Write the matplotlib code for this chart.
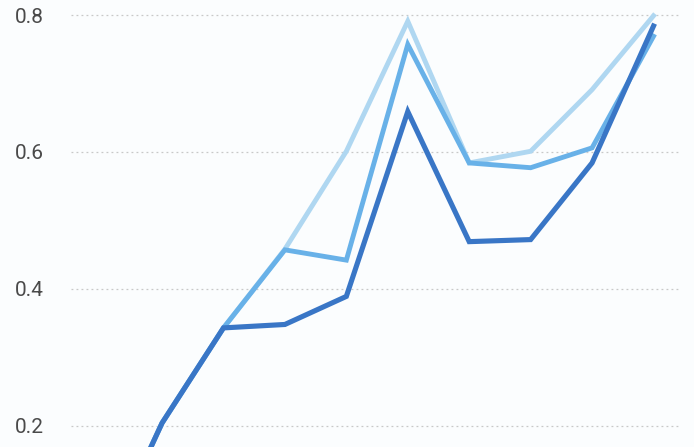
import numpy as np
import matplotlib.pyplot as plt

# values (index 0 sits below the visible area)
steps = np.arange(10)
series_light = [0.01, 0.204, 0.343, 0.458, 0.601, 0.791, 0.584, 0.601, 0.691, 0.799]
series_mid = [0.01, 0.204, 0.343, 0.457, 0.442, 0.757, 0.584, 0.577, 0.606, 0.769]
series_dark = [0.01, 0.204, 0.343, 0.348, 0.389, 0.659, 0.469, 0.472, 0.584, 0.784]
y_ticks = [0.2, 0.4, 0.6, 0.8]
y_labels = ["0.2", "0.4", "0.6", "0.8"]

bg = "#fbfdfe"
fig = plt.figure(figsize=(6.94, 4.47), dpi=100, facecolor=bg)
ax = fig.add_axes([71 / 694, 0, 608 / 694, 1])
ax.set_facecolor(bg)

ax.plot(steps, series_light, color="#afd7f1", lw=3.5, solid_joinstyle="miter", zorder=2)
ax.plot(steps, series_mid, color="#68b1e8", lw=3.5, solid_joinstyle="miter", zorder=3)
ax.plot(steps, series_dark, color="#3976c6", lw=3.7, solid_joinstyle="miter", zorder=4)

ax.set_xlim(-0.482, 9.415)
ax.set_ylim(0.169, 0.822)
ax.set_yticks(y_ticks)
ax.set_yticklabels(y_labels, fontfamily="Roboto", fontsize=15, color="#4a4a4a")
ax.set_xticks([])
ax.tick_params(axis="y", length=0, pad=19.5)
ax.grid(axis="y", color="#c8c8c8", linestyle=(0, (1.5, 2.5)), lw=0.9, zorder=1)
for s in ax.spines.values():
    s.set_visible(False)

fig.savefig("out.png", dpi=100, facecolor=bg)
